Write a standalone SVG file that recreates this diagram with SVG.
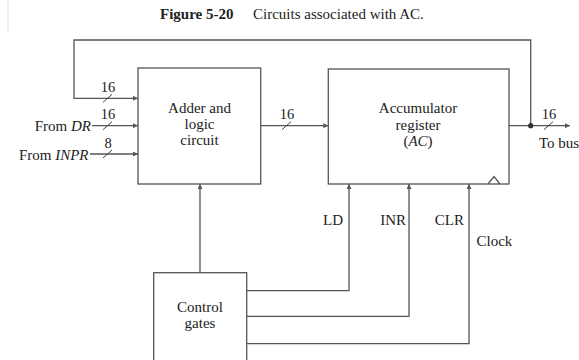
<svg xmlns="http://www.w3.org/2000/svg" width="579" height="360" viewBox="0 0 579 360">
<defs>
<marker id="ah" viewBox="0 0 10 10" refX="10" refY="5" markerWidth="6" markerHeight="5" markerUnits="userSpaceOnUse" orient="auto">
<path d="M0,0 L10,5 L0,10 z" fill="#555"/>
</marker>
<style>
.box{fill:#fff;stroke:#555;stroke-width:1.3}
.ln{fill:none;stroke:#555;stroke-width:1.3}
.ar{fill:none;stroke:#555;stroke-width:1.3;marker-end:url(#ah)}
.sl{stroke:#444;stroke-width:1}
.t{font-family:"Liberation Serif","Times New Roman",serif;font-size:15px;fill:#222}
.n{font-family:"Liberation Serif","Times New Roman",serif;font-size:14.5px;fill:#222;text-anchor:middle}
.c{text-anchor:middle}
.e{text-anchor:end}
</style>
</defs>
<rect width="579" height="360" fill="#fff"/>
<line x1="8" y1="0" x2="8" y2="33" stroke="#e4e4e4" stroke-width="1"/>
<g id="title">
<text class="t" x="160" y="18.5" font-size="17" font-weight="bold">Figure 5-20</text>
<text class="t" x="253" y="18.5" font-size="15.3">Circuits associated with AC.</text>
</g>
<g id="connectors">
<path class="ar" d="M530.7,125.7 V40 H74 V98.3 H138"/>
<line class="ar" x1="92" y1="125.7" x2="138" y2="125.7"/>
<line class="ar" x1="90" y1="154" x2="138" y2="154"/>
<line class="ar" x1="260.7" y1="125.7" x2="328.3" y2="125.7"/>
<line class="ar" x1="509" y1="125.7" x2="570" y2="125.7"/>
<circle cx="530.7" cy="125.7" r="2.6" fill="#333"/>
<line class="ar" x1="200" y1="272.7" x2="200" y2="184"/>
<path class="ar" d="M246.7,290.7 H349 V184"/>
<path class="ar" d="M246.7,316.3 H409 V184"/>
<path class="ar" d="M246.7,343.7 H469 V184"/>
<line class="sl" x1="103" y1="102.3" x2="112" y2="94.3"/>
<line class="sl" x1="103" y1="129.7" x2="112" y2="121.7"/>
<line class="sl" x1="103" y1="158" x2="112" y2="150"/>
<line class="sl" x1="282" y1="129.7" x2="291" y2="121.7"/>
<line class="sl" x1="544" y1="129.7" x2="553" y2="121.7"/>
<text class="n" x="108" y="92">16</text>
<text class="n" x="108" y="119">16</text>
<text class="n" x="108" y="147.5">8</text>
<text class="n" x="287" y="119">16</text>
<text class="n" x="549" y="119">16</text>
<text class="t e" x="91" y="131"><tspan>From </tspan><tspan font-style="italic">DR</tspan></text>
<text class="t e" x="88.5" y="159.5"><tspan>From </tspan><tspan font-style="italic">INPR</tspan></text>
<text class="t" x="539" y="147.5">To bus</text>
<text class="t e" x="343" y="225">LD</text>
<text class="t e" x="406" y="225">INR</text>
<text class="t e" x="464" y="225">CLR</text>
<text class="t" x="476.5" y="246">Clock</text>
</g>
<g id="adder">
<rect class="box" x="138" y="68" width="122.7" height="116"/>
<text class="t c" x="199.5" y="112.5">Adder and</text>
<text class="t c" x="199.5" y="128.5">logic</text>
<text class="t c" x="199.5" y="144.5">circuit</text>
</g>
<g id="accumulator">
<rect class="box" x="328.3" y="69" width="180.7" height="115"/>
<path class="ln" d="M488,184 L494,176.5 L500,184"/>
<text class="t c" x="418" y="113">Accumulator</text>
<text class="t c" x="418" y="129.5">register</text>
<text class="t c" x="418" y="146"><tspan>(</tspan><tspan font-style="italic">AC</tspan><tspan>)</tspan></text>
</g>
<g id="control">
<rect class="box" x="153.7" y="272.7" width="93" height="100"/>
<text class="t c" x="200" y="311.5">Control</text>
<text class="t c" x="200" y="327.5">gates</text>
</g>
</svg>
